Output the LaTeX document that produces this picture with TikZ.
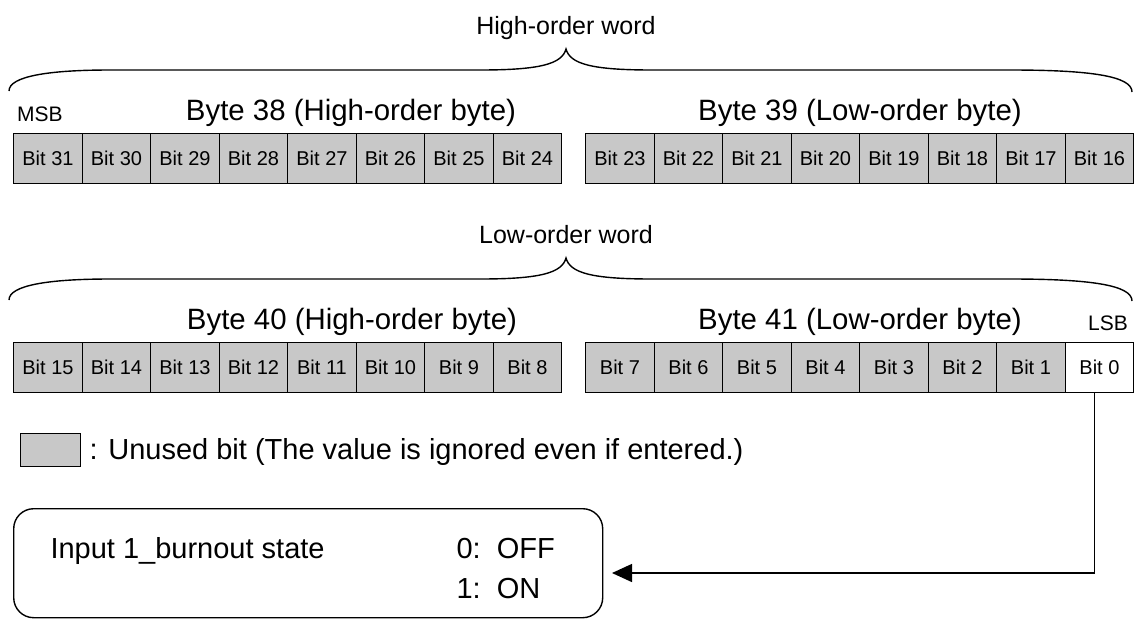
\documentclass[tikz,border=0pt]{standalone}
\usepackage{fontspec}
\setmainfont{Liberation Sans}
\usetikzlibrary{arrows.meta}
\definecolor{cellgray}{RGB}{200,200,200}
\begin{document}
\begin{tikzpicture}[x=1pt,y=-1pt,
  cell/.style={draw=black,line width=1.4pt,minimum width=68.5pt,minimum height=50pt,inner sep=0pt,anchor=north west,font=\fontsize{20}{24}\selectfont},
  unused/.style={cell,fill=cellgray},
  bytelabel/.style={font=\fontsize{29.4}{34}\selectfont,anchor=base},
  wordlabel/.style={font=\fontsize{25}{30}\selectfont,anchor=base},
  sblabel/.style={font=\fontsize{21}{25}\selectfont,anchor=base},
  brace/.style={line width=1.4pt},
  boxtext/.style={font=\fontsize{29}{34}\selectfont,anchor=base west},
]
\useasboundingbox (0,0) rectangle (1139,619);

% ---- High-order word ----
\node[wordlabel] (hw) at (566,34) {High-order word};
\draw[brace] (9,91) .. controls (9,76) and (50,70) .. (110,70) -- (480,70)
  .. controls (540,70) and (562,64) .. (566,49)
  .. controls (570,64) and (592,70) .. (652,70) -- (1010,70)
  .. controls (1090,70) and (1132,76) .. (1132,92);
\node[sblabel] (msb) at (40,121) {MSB};
\node[bytelabel] (by38) at (351,120) {Byte 38 (High-order byte)};
\node[bytelabel] (by39) at (860,120) {Byte 39 (Low-order byte)};
\foreach \i in {0,...,7}{
  \pgfmathtruncatemacro{\b}{31-\i}
  \node[unused] (b\b) at ({13+\i*68.5},133) {Bit \b};
  \pgfmathtruncatemacro{\c}{23-\i}
  \node[unused] (b\c) at ({585+\i*68.5},133) {Bit \c};
}

% ---- Low-order word ----
\node[wordlabel] (lw) at (566,243) {Low-order word};
\draw[brace] (9,300) .. controls (9,285) and (50,279) .. (110,279) -- (480,279)
  .. controls (540,279) and (562,273) .. (566,258)
  .. controls (570,273) and (592,279) .. (652,279) -- (1010,279)
  .. controls (1090,279) and (1132,285) .. (1132,301);
\node[bytelabel] (by40) at (352,329) {Byte 40 (High-order byte)};
\node[bytelabel] (by41) at (860,329) {Byte 41 (Low-order byte)};
\node[sblabel] (lsb) at (1108,330) {LSB};
\foreach \i in {0,...,7}{
  \pgfmathtruncatemacro{\b}{15-\i}
  \node[unused] (b\b) at ({13+\i*68.5},342) {Bit \b};
}
\foreach \i in {0,...,6}{
  \pgfmathtruncatemacro{\c}{7-\i}
  \node[unused] (b\c) at ({585+\i*68.5},342) {Bit \c};
}
\node[cell,fill=white] (b0) at ({585+7*68.5},342) {Bit 0};

% ---- legend ----
\node[draw,fill=cellgray,line width=1.2pt,minimum width=60pt,minimum height=33pt,inner sep=0pt,anchor=north west] (leg) at (20,433) {};
\node[boxtext] (legt) at (86,459) {: Unused bit (The value is ignored even if entered.)};

% ---- state box ----
\node[draw,rounded corners=20pt,line width=1.4pt,minimum width=589pt,minimum height=109pt,inner sep=0pt,anchor=north west] (state) at (13,508) {};
\node[boxtext] (inp) at (47,558) {Input 1\_burnout state};
\node[boxtext] (off) at (453,558) {0:\ \ OFF};
\node[boxtext] (on) at (453,598) {1:\ \ ON};

\coordinate (tip) at (612,573);
\draw[line width=1.4pt,-{Triangle[length=20pt,width=18pt]}] ([xshift=-5pt]b0.south) |- (tip);
\end{tikzpicture}
\end{document}
